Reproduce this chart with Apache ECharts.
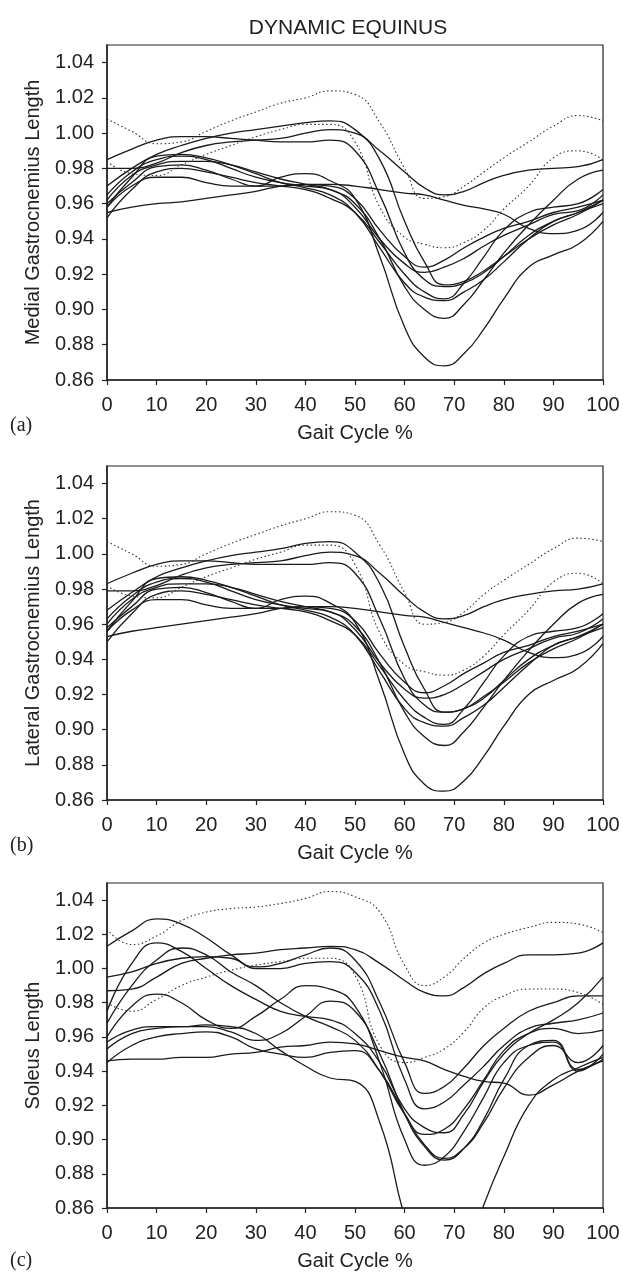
<!DOCTYPE html>
<html>
<head>
<meta charset="utf-8">
<script src="https://cdn.jsdelivr.net/npm/echarts@6/dist/echarts.min.js"></script>
<style>
html,body{margin:0;padding:0;background:#fff;}
#chart{width:623px;height:1272px;}
</style>
</head>
<body>
<div id="chart"></div>
<script>
// ---- data ----
const gaitPct = [0,5,10,15,20,25,30,35,40,45,50,55,60,64,68,72,76,80,85,90,95,100];
const yTicks = [0.86,0.88,0.90,0.92,0.94,0.96,0.98,1.00,1.02,1.04];

// (a) Medial gastrocnemius
const aDot1 = [1.008,1.001,0.994,0.995,1.001,1.007,1.012,1.017,1.020,1.024,1.022,1.006,0.980,0.963,0.964,0.970,0.978,0.986,0.995,1.004,1.010,1.007];
const aDot2 = [0.984,0.977,0.976,0.982,0.988,0.993,0.998,1.002,1.005,1.005,0.995,0.958,0.941,0.937,0.935,0.938,0.945,0.957,0.970,0.986,0.990,0.985];
const aS1 = [0.970,0.980,0.988,0.993,0.997,1.000,1.002,1.004,1.006,1.007,1.002,0.985,0.950,0.927,0.914,0.916,0.922,0.930,0.940,0.948,0.954,0.962];
const aS2 = [0.985,0.991,0.996,0.998,0.998,0.997,0.996,0.995,0.995,0.996,0.990,0.965,0.932,0.917,0.913,0.915,0.921,0.930,0.942,0.950,0.955,0.960];
const aS3 = [0.980,0.980,0.983,0.989,0.993,0.995,0.996,0.997,1.000,1.002,1.000,0.990,0.978,0.969,0.965,0.967,0.972,0.976,0.979,0.980,0.981,0.985];
const aS4 = [0.955,0.958,0.960,0.961,0.963,0.965,0.967,0.970,0.971,0.971,0.970,0.968,0.966,0.965,0.962,0.959,0.957,0.954,0.946,0.943,0.945,0.955];
const aS5 = [0.958,0.970,0.975,0.975,0.972,0.970,0.970,0.975,0.977,0.973,0.963,0.930,0.890,0.873,0.868,0.875,0.889,0.906,0.924,0.931,0.937,0.950];
const aS6 = [0.958,0.975,0.987,0.988,0.986,0.982,0.977,0.972,0.969,0.965,0.955,0.935,0.915,0.907,0.905,0.910,0.917,0.927,0.940,0.950,0.955,0.962];
const aS7 = [0.962,0.976,0.982,0.984,0.984,0.982,0.978,0.974,0.971,0.968,0.960,0.940,0.913,0.900,0.895,0.903,0.917,0.932,0.948,0.962,0.974,0.979];
const aS8 = [0.965,0.978,0.985,0.987,0.985,0.980,0.975,0.972,0.970,0.968,0.958,0.940,0.926,0.921,0.924,0.929,0.936,0.942,0.948,0.954,0.956,0.965];
const aS9 = [0.960,0.972,0.981,0.982,0.979,0.974,0.970,0.970,0.971,0.970,0.963,0.945,0.930,0.924,0.928,0.935,0.941,0.946,0.950,0.955,0.958,0.962];
const aS10 = [0.952,0.968,0.978,0.980,0.978,0.975,0.972,0.970,0.968,0.963,0.955,0.938,0.920,0.910,0.906,0.915,0.930,0.945,0.955,0.958,0.960,0.968];

// (b) Lateral gastrocnemius
const bDot1 = [1.007,1.000,0.993,0.994,1.000,1.006,1.011,1.016,1.020,1.024,1.022,1.005,0.978,0.960,0.961,0.967,0.977,0.985,0.994,1.003,1.009,1.007];
const bDot2 = [0.982,0.976,0.975,0.981,0.987,0.992,0.997,1.001,1.005,1.005,0.994,0.955,0.937,0.933,0.931,0.934,0.942,0.954,0.968,0.984,0.989,0.983];
const bS1 = [0.968,0.978,0.987,0.992,0.996,0.999,1.001,1.003,1.006,1.007,1.001,0.983,0.947,0.923,0.910,0.912,0.919,0.927,0.938,0.946,0.952,0.960];
const bS2 = [0.983,0.989,0.994,0.996,0.996,0.995,0.994,0.994,0.994,0.995,0.989,0.963,0.929,0.914,0.910,0.912,0.918,0.928,0.940,0.948,0.953,0.958];
const bS3 = [0.979,0.979,0.982,0.988,0.992,0.994,0.995,0.996,0.999,1.001,0.999,0.989,0.976,0.967,0.963,0.965,0.970,0.974,0.977,0.979,0.980,0.983];
const bS4 = [0.953,0.956,0.958,0.960,0.962,0.964,0.966,0.969,0.970,0.970,0.969,0.967,0.965,0.964,0.961,0.958,0.955,0.951,0.944,0.941,0.943,0.953];
const bS5 = [0.956,0.968,0.974,0.974,0.971,0.969,0.969,0.974,0.976,0.972,0.961,0.927,0.886,0.869,0.865,0.871,0.885,0.902,0.920,0.928,0.935,0.949];
const bS6 = [0.956,0.973,0.986,0.987,0.985,0.981,0.976,0.971,0.968,0.964,0.954,0.933,0.912,0.904,0.902,0.907,0.914,0.924,0.937,0.948,0.953,0.960];
const bS7 = [0.960,0.974,0.981,0.983,0.983,0.981,0.977,0.973,0.970,0.967,0.959,0.938,0.910,0.896,0.891,0.899,0.913,0.928,0.945,0.960,0.972,0.977];
const bS8 = [0.963,0.976,0.984,0.986,0.984,0.979,0.974,0.971,0.969,0.967,0.957,0.938,0.923,0.918,0.920,0.926,0.933,0.940,0.946,0.952,0.955,0.963];
const bS9 = [0.958,0.970,0.980,0.981,0.978,0.973,0.969,0.969,0.970,0.969,0.962,0.943,0.927,0.921,0.925,0.932,0.938,0.944,0.948,0.953,0.956,0.960];
const bS10 = [0.950,0.966,0.977,0.979,0.977,0.974,0.971,0.969,0.967,0.962,0.954,0.936,0.917,0.907,0.903,0.912,0.927,0.942,0.953,0.956,0.958,0.966];

// (c) Soleus
const cDot1 = [1.023,1.014,1.019,1.028,1.033,1.035,1.036,1.038,1.041,1.045,1.042,1.033,1.002,0.990,0.995,1.006,1.015,1.020,1.024,1.027,1.026,1.021];
const cDot2 = [0.980,0.975,0.982,0.990,0.995,0.999,1.002,1.004,1.006,1.006,0.996,0.955,0.945,0.948,0.953,0.963,0.977,0.984,0.988,0.988,0.986,0.979];
const cS1 = [0.987,0.988,0.995,1.003,1.006,1.008,1.009,1.011,1.012,1.013,1.011,1.003,0.993,0.986,0.984,0.989,0.997,1.003,1.008,1.008,1.009,1.015];
const cS2 = [1.013,1.022,1.029,1.026,1.018,1.008,1.001,1.003,1.008,1.012,1.005,0.980,0.945,0.927,0.931,0.942,0.955,0.965,0.975,0.980,0.984,0.984];
const cS3 = [0.975,1.003,1.015,1.010,1.000,0.990,0.982,0.975,0.972,0.970,0.962,0.945,0.918,0.907,0.904,0.915,0.934,0.950,0.962,0.970,0.980,0.995];
const cS4 = [0.995,0.998,1.003,1.006,1.007,1.006,1.000,1.000,1.003,1.004,0.998,0.975,0.935,0.918,0.922,0.932,0.943,0.955,0.965,0.968,0.970,0.974];
const cS5 = [0.960,0.978,0.985,0.980,0.970,0.965,0.972,0.982,0.990,0.988,0.978,0.945,0.900,0.885,0.890,0.905,0.925,0.945,0.955,0.957,0.940,0.950];
const cS6 = [0.953,0.962,0.965,0.966,0.966,0.963,0.958,0.962,0.972,0.981,0.975,0.950,0.915,0.896,0.888,0.895,0.912,0.935,0.955,0.958,0.941,0.947];
const cS7 = [0.945,0.955,0.960,0.962,0.963,0.960,0.953,0.950,0.948,0.951,0.952,0.940,0.915,0.897,0.889,0.895,0.910,0.930,0.948,0.955,0.945,0.955];
const cS8 = [0.968,0.990,1.005,1.012,1.008,0.998,0.990,0.980,0.972,0.966,0.958,0.940,0.915,0.903,0.906,0.918,0.935,0.952,0.962,0.965,0.962,0.964];
const cS9 = [0.957,0.964,0.966,0.966,0.967,0.966,0.962,0.952,0.943,0.936,0.934,0.910,0.855,0.822,0.812,0.828,0.862,0.890,0.920,0.935,0.942,0.948];
const cS10 = [0.946,0.947,0.947,0.948,0.948,0.950,0.951,0.954,0.955,0.957,0.956,0.952,0.948,0.946,0.941,0.937,0.934,0.933,0.926,0.932,0.940,0.946];

const panels = [
  {name:'Medial Gastrocnemius Length', dotted:[aDot1,aDot2], solid:[aS1,aS2,aS3,aS4,aS5,aS6,aS7,aS8,aS9,aS10], tag:'(a)'},
  {name:'Lateral Gastrocnemius Length', dotted:[bDot1,bDot2], solid:[bS1,bS2,bS3,bS4,bS5,bS6,bS7,bS8,bS9,bS10], tag:'(b)'},
  {name:'Soleus Length', dotted:[cDot1,cDot2], solid:[cS1,cS2,cS3,cS4,cS5,cS6,cS7,cS8,cS9,cS10], tag:'(c)'}
];

// ---- layout ----
const grids = [
  {left:107, top:45, width:496, height:335},
  {left:107, top:466, width:496, height:334},
  {left:107, top:883, width:496, height:332}
];
const FONT = 'Liberation Sans, Arial, sans-serif';

const option = {
  animation:false,
  backgroundColor:'#fff',
  grid: grids.map(g => Object.assign({show:true, borderColor:'#222', borderWidth:1.2, backgroundColor:'transparent'}, g)),
  xAxis: grids.map((g,i) => ({
    type:'value', gridIndex:i, min:0, max:100, interval:10,
    name:'Gait Cycle %', nameLocation:'middle', nameGap:43,
    nameTextStyle:{fontFamily:FONT, fontSize:20, color:'#222'},
    axisLine:{show:true, lineStyle:{color:'#222', width:1.5}},
    axisTick:{show:true, inside:false, length:5, lineStyle:{color:'#222', width:1.2}},
    axisLabel:{fontFamily:FONT, fontSize:20, color:'#222', margin:15},
    splitLine:{show:false}
  })),
  yAxis: panels.map((p,i) => ({
    type:'value', gridIndex:i, min:0.86, max:1.05,
    name:p.name, nameLocation:'middle', nameGap:64, nameRotate:90,
    nameTextStyle:{fontFamily:FONT, fontSize:20, color:'#222'},
    axisLine:{show:true, lineStyle:{color:'#222', width:1.5}},
    axisTick:{show:true, inside:false, length:5, customValues:yTicks, lineStyle:{color:'#222', width:1.2}},
    axisLabel:{fontFamily:FONT, fontSize:20, color:'#222', margin:13, customValues:yTicks, formatter:v => Number(v).toFixed(2)},
    splitLine:{show:false}
  })),
  graphic: [
    {type:'text', style:{x:348, y:28, text:'DYNAMIC EQUINUS', textAlign:'center', textVerticalAlign:'middle', fontFamily:FONT, fontSize:21, fill:'#222'}}
  ].concat(panels.map((p,i) => ({
    type:'text',
    style:{x:10, y:grids[i].top + grids[i].height + 46, text:p.tag, textAlign:'left', textVerticalAlign:'middle',
      fontFamily:'Liberation Serif, Times New Roman, serif', fontSize:20, fill:'#222'}
  }))),
  series: []
};

panels.forEach((p,i) => {
  p.solid.forEach(arr => option.series.push({
    type:'line', xAxisIndex:i, yAxisIndex:i, smooth:0.5, showSymbol:false, symbol:'none',
    data: gaitPct.map((x,j) => [x, arr[j]]),
    lineStyle:{color:'#1a1a1a', width:1.3}, clip:true
  }));
  p.dotted.forEach(arr => option.series.push({
    type:'line', xAxisIndex:i, yAxisIndex:i, smooth:0.5, showSymbol:false, symbol:'none',
    data: gaitPct.map((x,j) => [x, arr[j]]),
    lineStyle:{color:'#333', width:1.1, type:[1.5,2.5]}, clip:true
  }));
});

const chart = echarts.init(document.getElementById('chart'), null, {renderer:'canvas'});
chart.setOption(option);
</script>
</body>
</html>
